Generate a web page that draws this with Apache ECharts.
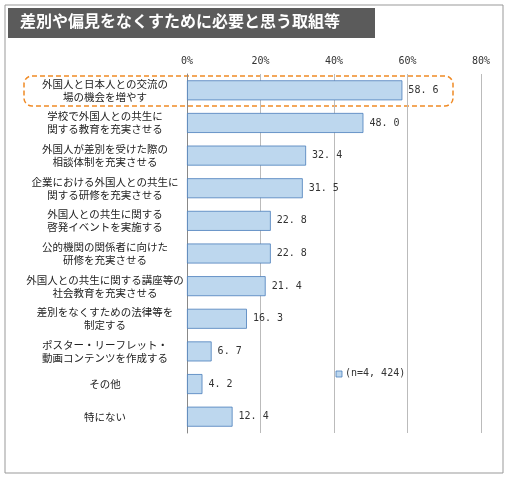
<!DOCTYPE html><html><head><meta charset="utf-8"><script src="https://cdn.jsdelivr.net/npm/echarts@6/dist/echarts.min.js"></script>
<style>body{margin:0}#c{width:509px;height:479px}</style></head><body><div id="c"></div><script>
const categories=["外国人と日本人との交流の\n場の機会を増やす","学校で外国人との共生に\n関する教育を充実させる","外国人が差別を受けた際の\n相談体制を充実させる","企業における外国人との共生に\n関する研修を充実させる","外国人との共生に関する\n啓発イベントを実施する","公的機関の関係者に向けた\n研修を充実させる","外国人との共生に関する講座等の\n社会教育を充実させる","差別をなくすための法律等を\n制定する","ポスター・リーフレット・\n動画コンテンツを作成する","その他","特にない"];
const values=[58.6,48.0,32.4,31.5,22.8,22.8,21.4,16.3,6.7,4.2,12.4];
const ticks=["0%","20%","40%","60%","80%"];
const F='"Noto Sans CJK JP",sans-serif';
const ch=echarts.init(document.getElementById('c'));
ch.setOption({animation:false,
graphic:[
{type:'rect',shape:{x:5,y:5,width:498,height:468},style:{fill:'#fff',stroke:'#999',lineWidth:1}},
{type:'rect',shape:{x:8,y:8,width:367,height:30},style:{fill:'#5b5b5b'}},
{type:'text',left:20,top:13,style:{text:'差別や偏見をなくすために必要と思う取組等',fill:'#fff',font:'bold 16px '+F}},
{type:'rect',shape:{x:24,y:76,width:429,height:30,r:8},style:{fill:'none',stroke:'#f08a24',lineWidth:1.5,lineDash:[5,3]}},
{type:'rect',shape:{x:336,y:371,width:6,height:6},style:{fill:'#bdd7ee',stroke:'#4a7ebb',lineWidth:0.8}},
{type:'text',left:345,top:368,style:{text:'(n=4, 424)',fill:'#333',font:'10px "DejaVu Sans Mono",monospace'}}
],
grid:{left:187,right:28,top:74,bottom:46},
xAxis:{type:'value',position:'top',min:0,max:80,interval:20,
 axisLabel:{formatter:v=>ticks[v/20],color:'#333',fontSize:10,fontFamily:'"DejaVu Sans Mono",monospace'},
 axisLine:{show:false},axisTick:{show:false},
 splitLine:{show:true,lineStyle:{color:'#bbb'}}},
yAxis:{type:'category',inverse:true,data:categories,
 axisLine:{show:true,lineStyle:{color:'#888'}},axisTick:{show:false},
 axisLabel:{align:'center',margin:82,color:'#222',fontSize:10.5,lineHeight:13,fontFamily:F}},
series:[{type:'bar',data:values,barWidth:20,
 itemStyle:{color:'#bdd7ee',borderColor:'#4a7ebb',borderWidth:0.8},
 label:{show:true,position:'right',distance:6,formatter:p=>p.value.toFixed(1).replace('.','. '),color:'#333',fontSize:10,fontFamily:'"DejaVu Sans Mono",monospace'}}]
});
</script></body></html>
